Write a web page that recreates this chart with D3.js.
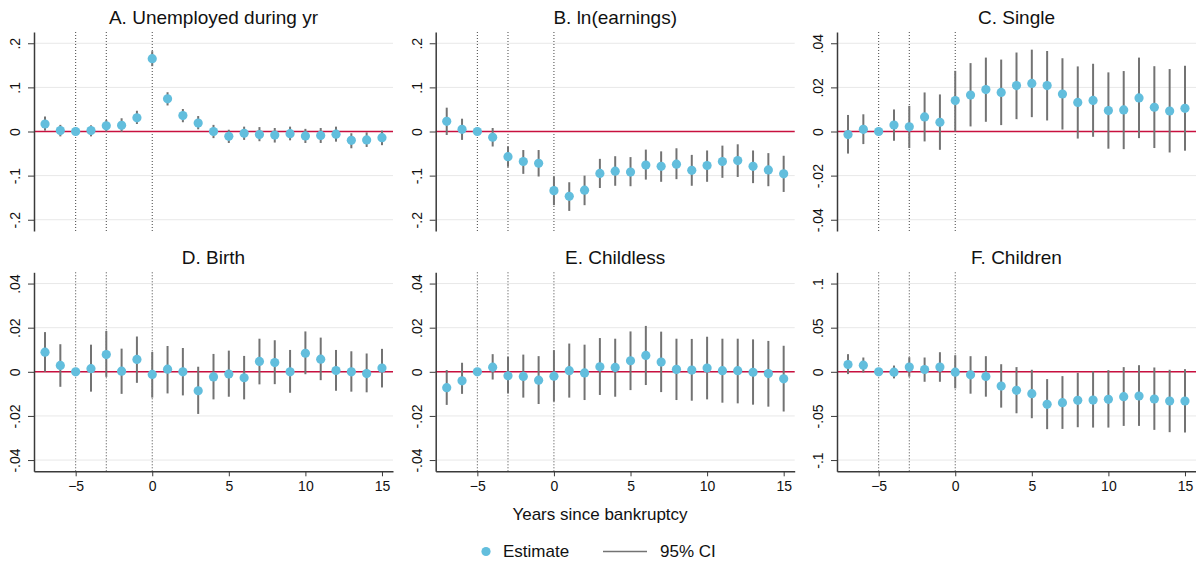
<!DOCTYPE html>
<html lang="en">
<head>
  <meta charset="UTF-8" />
  <title>Event study: outcomes around bankruptcy</title>
  <style>
    body { margin: 0; background: #fff; }
    svg { display: block; font-family: "Liberation Sans", Arial, Helvetica, sans-serif; }
    .axis path, .axis line { stroke: #3a3a3a; }
    .axis text { font-size: 14px; fill: #111; }
    .title { font-size: 19px; fill: #111; }
  </style>
</head>
<body>
  <svg id="chart"></svg>

  <script src="https://d3js.org/d3.v7.min.js"></script>
  <script>
    // event time
    const years = [-7, -6, -5, -4, -3, -2, -1, 0, 1, 2, 3, 4, 5, 6, 7, 8, 9, 10, 11, 12, 13, 14, 15];

    // A. Unemployed during yr
    const unempEst = [0.017, 0.002, 0, 0.002, 0.013, 0.014, 0.031, 0.165, 0.074, 0.036, 0.019, 0.000, -0.011, -0.004, -0.007, -0.008, -0.005, -0.010, -0.009, -0.006, -0.020, -0.019, -0.014];
    const unempLo  = [0.002, -0.011, 0, -0.011, 0.000, -0.001, 0.017, 0.148, 0.059, 0.021, 0.005, -0.015, -0.026, -0.019, -0.022, -0.025, -0.020, -0.026, -0.026, -0.023, -0.038, -0.035, -0.031];
    const unempHi  = [0.034, 0.015, 0, 0.014, 0.026, 0.030, 0.047, 0.182, 0.089, 0.051, 0.035, 0.015, 0.004, 0.011, 0.010, 0.008, 0.011, 0.006, 0.008, 0.011, -0.004, -0.002, 0.002];

    // B. ln(earnings)
    const earnEst = [0.023, 0.005, 0, -0.013, -0.057, -0.068, -0.072, -0.134, -0.147, -0.133, -0.095, -0.090, -0.092, -0.076, -0.079, -0.074, -0.088, -0.077, -0.068, -0.066, -0.079, -0.087, -0.096];
    const earnLo  = [-0.008, -0.019, 0, -0.034, -0.080, -0.096, -0.102, -0.167, -0.180, -0.167, -0.128, -0.123, -0.124, -0.109, -0.114, -0.108, -0.123, -0.114, -0.105, -0.103, -0.117, -0.124, -0.137];
    const earnHi  = [0.054, 0.029, 0, 0.008, -0.034, -0.042, -0.042, -0.102, -0.115, -0.100, -0.062, -0.056, -0.058, -0.041, -0.045, -0.038, -0.053, -0.043, -0.032, -0.029, -0.043, -0.049, -0.055];

    // C. Single
    const singleEst = [-0.0014, 0.0010, 0, 0.0029, 0.0021, 0.0066, 0.0042, 0.0140, 0.0165, 0.0190, 0.0177, 0.0208, 0.0218, 0.0208, 0.0170, 0.0132, 0.0141, 0.0095, 0.0098, 0.0152, 0.0110, 0.0093, 0.0105];
    const singleLo  = [-0.0100, -0.0057, 0, -0.0042, -0.0075, -0.0045, -0.0083, 0.0000, 0.0023, 0.0044, 0.0029, 0.0056, 0.0065, 0.0050, 0.0009, -0.0032, -0.0024, -0.0078, -0.0080, -0.0030, -0.0075, -0.0095, -0.0087];
    const singleHi  = [0.0075, 0.0078, 0, 0.0100, 0.0116, 0.0177, 0.0168, 0.0275, 0.0310, 0.0335, 0.0326, 0.0358, 0.0371, 0.0365, 0.0332, 0.0295, 0.0307, 0.0268, 0.0274, 0.0335, 0.0296, 0.0283, 0.0298];

    // D. Birth
    const birthEst = [0.0089, 0.0029, 0, 0.0014, 0.0078, 0.0003, 0.0056, -0.0012, 0.0012, 0.0000, -0.0086, -0.0023, -0.0010, -0.0027, 0.0047, 0.0042, 0.0000, 0.0084, 0.0057, 0.0006, 0.0000, -0.0008, 0.0017];
    const birthLo  = [0.0000, -0.0068, 0, -0.0090, -0.0023, -0.0100, -0.0050, -0.0117, -0.0098, -0.0107, -0.0191, -0.0125, -0.0113, -0.0125, -0.0057, -0.0056, -0.0095, -0.0011, -0.0038, -0.0086, -0.0090, -0.0093, -0.0071];
    const birthHi  = [0.0180, 0.0125, 0, 0.0123, 0.0185, 0.0105, 0.0160, 0.0090, 0.0117, 0.0108, 0.0023, 0.0081, 0.0096, 0.0072, 0.0150, 0.0143, 0.0099, 0.0183, 0.0155, 0.0099, 0.0093, 0.0083, 0.0104];

    // E. Childless
    const childlessEst = [-0.0072, -0.0041, 0, 0.0021, -0.0018, -0.0021, -0.0038, -0.0020, 0.0005, -0.0005, 0.0023, 0.0020, 0.0050, 0.0074, 0.0044, 0.0011, 0.0008, 0.0017, 0.0005, 0.0005, -0.0002, -0.0008, -0.0032];
    const childlessLo  = [-0.0150, -0.0100, 0, -0.0035, -0.0098, -0.0117, -0.0146, -0.0135, -0.0117, -0.0128, -0.0105, -0.0113, -0.0083, -0.0060, -0.0092, -0.0128, -0.0131, -0.0125, -0.0140, -0.0143, -0.0149, -0.0158, -0.0180];
    const childlessHi  = [0.0008, 0.0041, 0, 0.0080, 0.0068, 0.0078, 0.0071, 0.0098, 0.0128, 0.0123, 0.0153, 0.0150, 0.0183, 0.0208, 0.0182, 0.0150, 0.0149, 0.0159, 0.0150, 0.0150, 0.0147, 0.0140, 0.0118];

    // F. Children
    const childrenEst = [0.0083, 0.0075, 0, -0.0004, 0.0053, 0.0026, 0.0053, -0.0004, -0.0034, -0.0053, -0.0162, -0.0210, -0.0248, -0.0368, -0.0350, -0.0323, -0.0320, -0.0312, -0.0282, -0.0274, -0.0308, -0.0331, -0.0331];
    const childrenLo  = [-0.0026, -0.0008, 0, -0.0075, -0.0056, -0.0113, -0.0113, -0.0188, -0.0248, -0.0282, -0.0406, -0.0470, -0.0526, -0.0650, -0.0647, -0.0628, -0.0632, -0.0632, -0.0613, -0.0613, -0.0658, -0.0684, -0.0688];
    const childrenHi  = [0.0200, 0.0162, 0, 0.0071, 0.0165, 0.0162, 0.0222, 0.0188, 0.0177, 0.0177, 0.0086, 0.0053, 0.0023, -0.0083, -0.0049, -0.0011, 0.0004, 0.0019, 0.0053, 0.0075, 0.0049, 0.0023, 0.0030];

    // axis ticks and labels
    const wideTicks = [-0.2, -0.1, 0, 0.1, 0.2];
    const wideLabels = ["-.2", "-.1", "0", ".1", ".2"];
    const narrowTicks = [-0.04, -0.02, 0, 0.02, 0.04];
    const narrowLabels = ["-.04", "-.02", "0", ".02", ".04"];
    const childTicks = [-0.1, -0.05, 0, 0.05, 0.1];
    const childLabels = ["-.1", "-.05", "0", ".05", ".1"];
    const xTicks = [-5, 0, 5, 10, 15];
    const eventLines = [-5, -3, 0];

    const titles = ["A. Unemployed during yr", "B. ln(earnings)", "C. Single", "D. Birth", "E. Childless", "F. Children"];

    const panels = [
      { est: unempEst, lo: unempLo, hi: unempHi, ticks: wideTicks, labels: wideLabels },
      { est: earnEst, lo: earnLo, hi: earnHi, ticks: wideTicks, labels: wideLabels },
      { est: singleEst, lo: singleLo, hi: singleHi, ticks: narrowTicks, labels: narrowLabels },
      { est: birthEst, lo: birthLo, hi: birthHi, ticks: narrowTicks, labels: narrowLabels },
      { est: childlessEst, lo: childlessLo, hi: childlessHi, ticks: narrowTicks, labels: narrowLabels },
      { est: childrenEst, lo: childrenLo, hi: childrenHi, ticks: childTicks, labels: childLabels }
    ];

    const W = 1196, H = 563;
    const colX = [34, 435.7, 837];
    const rowTop = [32, 272.3];
    const pw = 359, ph = 199;
    const dotColor = "#62bedd";
    const ciColor = "#737373";
    const zeroColor = "#c8103f";

    const svg = d3.select("#chart").attr("width", W).attr("height", H);

    panels.forEach((p, i) => {
      const col = i % 3, row = Math.floor(i / 3);
      const g = svg.append("g")
        .attr("transform", `translate(${colX[col]},${rowTop[row]})`);

      const x = d3.scaleLinear().domain([-7.72, 15.72]).range([0, pw]);
      const m = d3.max(p.ticks) * 1.1275;
      const y = d3.scaleLinear().domain([-m, m]).range([ph, 0]);

      // gridlines
      g.selectAll(".grid")
        .data(p.ticks)
        .join("line")
        .attr("x1", 0).attr("x2", pw)
        .attr("y1", d => y(d)).attr("y2", d => y(d))
        .attr("stroke", "#e8e8e8")
        .attr("stroke-width", 1);

      // event-time reference lines
      g.selectAll(".vline")
        .data(eventLines)
        .join("line")
        .attr("x1", d => x(d)).attr("x2", d => x(d))
        .attr("y1", 0).attr("y2", ph)
        .attr("stroke", "#444")
        .attr("stroke-width", 1)
        .attr("stroke-dasharray", "1,2");

      // zero line
      g.append("line")
        .attr("x1", 0).attr("x2", pw)
        .attr("y1", y(0)).attr("y2", y(0))
        .attr("stroke", zeroColor)
        .attr("stroke-width", 1.6);

      // confidence intervals
      g.selectAll(".ci")
        .data(years.map((yr, k) => ({ yr, lo: p.lo[k], hi: p.hi[k] })))
        .join("line")
        .attr("x1", d => x(d.yr)).attr("x2", d => x(d.yr))
        .attr("y1", d => y(d.lo)).attr("y2", d => y(d.hi))
        .attr("stroke", ciColor)
        .attr("stroke-width", 2);

      // point estimates
      g.selectAll(".dot")
        .data(years.map((yr, k) => ({ yr, v: p.est[k] })))
        .join("circle")
        .attr("cx", d => x(d.yr))
        .attr("cy", d => y(d.v))
        .attr("r", 4.6)
        .attr("fill", dotColor);

      // y axis, labels rotated like Stata
      const yAxis = g.append("g")
        .attr("class", "axis")
        .call(d3.axisLeft(y).tickValues(p.ticks).tickFormat((d, k) => p.labels[k]).tickSize(6).tickSizeOuter(0));
      yAxis.select(".domain").attr("stroke-width", 1.5);
      yAxis.selectAll("text")
        .attr("x", null).attr("dy", null)
        .attr("text-anchor", "middle")
        .attr("transform", "translate(-14,0) rotate(-90)");

      // x axis on the bottom row only
      if (row === 1) {
        const xAxis = g.append("g")
          .attr("class", "axis")
          .attr("transform", `translate(0,${ph})`)
          .call(d3.axisBottom(x).tickValues(xTicks).tickFormat(d3.format("d")).tickSize(5).tickSizeOuter(0));
        xAxis.select(".domain").attr("stroke-width", 1.5);
        xAxis.selectAll("text").attr("y", 10).attr("dy", "0.71em");
      }

      // title
      g.append("text")
        .attr("class", "title")
        .attr("x", pw / 2)
        .attr("y", -15)
        .attr("text-anchor", "middle")
        .attr("dominant-baseline", "central")
        .text(titles[i]);
    });

    // shared x title
    svg.append("text")
      .attr("x", 600).attr("y", 514)
      .attr("text-anchor", "middle")
      .attr("dominant-baseline", "central")
      .style("font-size", "17px")
      .attr("fill", "#111")
      .text("Years since bankruptcy");

    // legend
    const leg = svg.append("g").attr("transform", "translate(0,551.5)");
    leg.append("circle").attr("cx", 486).attr("cy", 0).attr("r", 4.6).attr("fill", dotColor);
    leg.append("text").attr("x", 503).attr("y", 0)
      .attr("dominant-baseline", "central")
      .style("font-size", "17px").attr("fill", "#111")
      .text("Estimate");
    leg.append("line").attr("x1", 603).attr("x2", 647).attr("y1", 0).attr("y2", 0)
      .attr("stroke", ciColor).attr("stroke-width", 1.5);
    leg.append("text").attr("x", 660).attr("y", 0)
      .attr("dominant-baseline", "central")
      .style("font-size", "17px").attr("fill", "#111")
      .text("95% CI");
  </script>
</body>
</html>
